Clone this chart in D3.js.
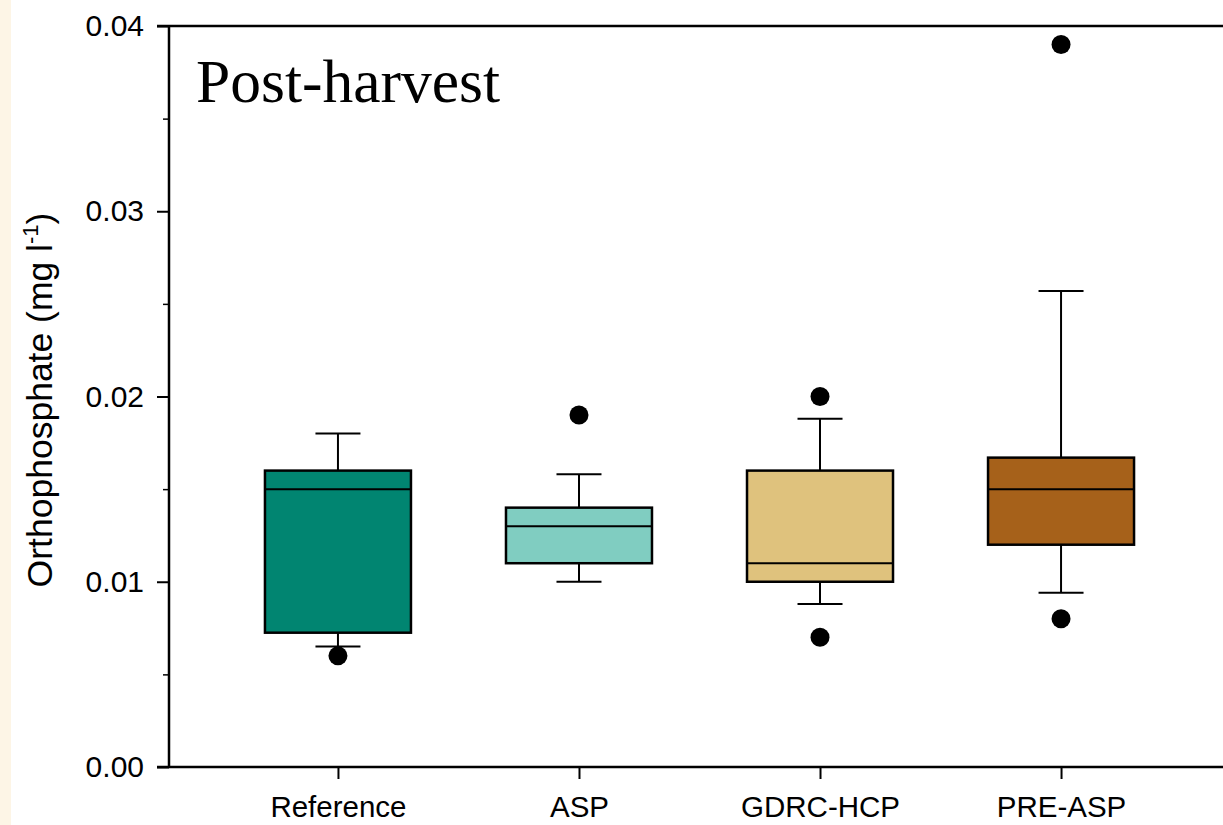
<!DOCTYPE html>
<html>
<head>
<meta charset="utf-8">
<script src="https://cdn.jsdelivr.net/npm/d3@7"></script>
<style>
  html, body { margin: 0; padding: 0; background: #ffffff; }
  svg { display: block; }
</style>
</head>
<body>
<svg id="chart" width="1223" height="825"></svg>
<script>
// ---- data ----
const categories = ["Reference", "ASP", "GDRC-HCP", "PRE-ASP"];
const whiskerLow  = [0.0065, 0.0100, 0.0088, 0.0094];
const q1          = [0.00725, 0.0110, 0.0100, 0.0120];
const median      = [0.0150, 0.0130, 0.0110, 0.0150];
const q3          = [0.0160, 0.0140, 0.0160, 0.0167];
const whiskerHigh = [0.0180, 0.0158, 0.0188, 0.0257];
const outliers    = [[0.0060], [0.0190], [0.0200, 0.0070], [0.0390, 0.0080]];
const boxColors   = ["#018571", "#80cdc1", "#dfc27d", "#a6611a"];
const yMajorTicks = [0.00, 0.01, 0.02, 0.03, 0.04];
const yMinorTicks = [0.005, 0.015, 0.025, 0.035];
const titleText = "Post-harvest";

(function () {
// ---- layout ----
const svg = d3.select("#chart");
const pLeft = 169, pRight = 1230, pTop = 26, pBottom = 767;

svg.append("rect").attr("x", 0).attr("y", 0).attr("width", 11).attr("height", 825)
  .attr("fill", "#fdf5e6");

const y = d3.scaleLinear().domain([0, 0.04]).range([pBottom, pTop]);
const x = d3.scalePoint().domain(categories).range([pLeft, pRight]).padding(0.701);

const boxW = 146, capW = 45;

// y axis major
const yAxis = svg.append("g").attr("transform", `translate(${pLeft},0)`)
  .call(d3.axisLeft(y).tickValues(yMajorTicks).tickFormat(d3.format(".2f"))
        .tickSize(12).tickPadding(13));
yAxis.select(".domain").remove();
yAxis.selectAll(".tick line").attr("stroke", "#000").attr("stroke-width", 2);
yAxis.selectAll(".tick text").attr("font-family", "Liberation Sans, Arial, sans-serif")
  .attr("font-size", 30).attr("fill", "#000");

// y axis minor
const yMinor = svg.append("g").attr("transform", `translate(${pLeft},0)`)
  .call(d3.axisLeft(y).tickValues(yMinorTicks).tickFormat("").tickSize(6));
yMinor.select(".domain").remove();
yMinor.selectAll(".tick line").attr("stroke", "#000").attr("stroke-width", 1.5);

// x axis
const xAxis = svg.append("g").attr("transform", `translate(0,${pBottom})`)
  .call(d3.axisBottom(x).tickSize(12).tickPadding(17));
xAxis.select(".domain").remove();
xAxis.selectAll(".tick line").attr("stroke", "#000").attr("stroke-width", 2);
xAxis.selectAll(".tick text").attr("font-family", "Liberation Sans, Arial, sans-serif")
  .attr("font-size", 29.5).attr("fill", "#000");

// frame lines (left, top, bottom)
svg.append("line").attr("x1", pLeft).attr("x2", pLeft).attr("y1", pTop).attr("y2", pBottom)
  .attr("stroke", "#000").attr("stroke-width", 2.5);
svg.append("line").attr("x1", pLeft - 12).attr("x2", 1223).attr("y1", pTop).attr("y2", pTop)
  .attr("stroke", "#000").attr("stroke-width", 2.5);
svg.append("line").attr("x1", pLeft - 12).attr("x2", 1223).attr("y1", pBottom).attr("y2", pBottom)
  .attr("stroke", "#000").attr("stroke-width", 2.5);

// boxes
const g = svg.append("g");
categories.forEach((c, i) => {
  const cx = x(c);
  g.append("line").attr("x1", cx).attr("x2", cx).attr("y1", y(whiskerHigh[i])).attr("y2", y(q3[i]))
    .attr("stroke", "#000").attr("stroke-width", 2);
  g.append("line").attr("x1", cx).attr("x2", cx).attr("y1", y(q1[i])).attr("y2", y(whiskerLow[i]))
    .attr("stroke", "#000").attr("stroke-width", 2);
  g.append("line").attr("x1", cx - capW / 2).attr("x2", cx + capW / 2)
    .attr("y1", y(whiskerHigh[i])).attr("y2", y(whiskerHigh[i]))
    .attr("stroke", "#000").attr("stroke-width", 2);
  g.append("line").attr("x1", cx - capW / 2).attr("x2", cx + capW / 2)
    .attr("y1", y(whiskerLow[i])).attr("y2", y(whiskerLow[i]))
    .attr("stroke", "#000").attr("stroke-width", 2);
  g.append("rect").attr("x", cx - boxW / 2).attr("y", y(q3[i]))
    .attr("width", boxW).attr("height", y(q1[i]) - y(q3[i]))
    .attr("fill", boxColors[i]).attr("stroke", "#000").attr("stroke-width", 2.5);
  g.append("line").attr("x1", cx - boxW / 2).attr("x2", cx + boxW / 2)
    .attr("y1", y(median[i])).attr("y2", y(median[i]))
    .attr("stroke", "#000").attr("stroke-width", 2);
  outliers[i].forEach(v => {
    g.append("circle").attr("cx", cx).attr("cy", y(v)).attr("r", 9.5).attr("fill", "#000");
  });
});

// title
svg.append("text").attr("x", 196).attr("y", 101.7)
  .attr("font-family", "Liberation Serif, Times New Roman, serif")
  .attr("font-size", 61.5).attr("fill", "#000").text(titleText);

// y label
const yl = svg.append("text")
  .attr("transform", `translate(52,400) rotate(-90)`)
  .attr("text-anchor", "middle")
  .attr("font-family", "Liberation Sans, Arial, sans-serif")
  .attr("font-size", 35.5).attr("fill", "#000");
yl.append("tspan").text("Orthophosphate (mg l");
yl.append("tspan").attr("font-size", 22).attr("dy", -14).text("-1");
yl.append("tspan").attr("dy", 14).text(")");
})();
</script>
</body>
</html>
